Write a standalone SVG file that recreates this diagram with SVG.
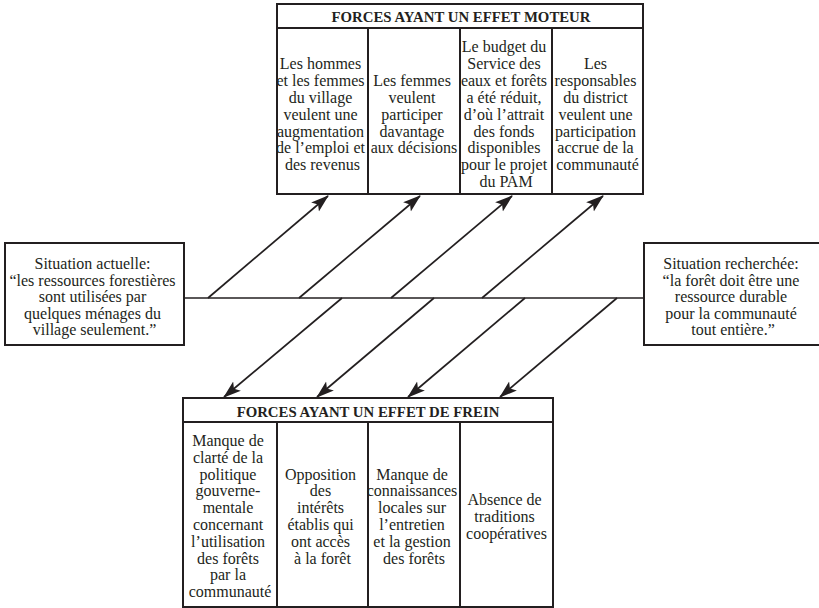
<svg xmlns="http://www.w3.org/2000/svg" width="819" height="608" viewBox="0 0 819 608">
  <style>
    .box { fill: #ffffff; stroke: #231f20; stroke-width: 2; }
    .div { stroke: #231f20; stroke-width: 2; fill: none; }
    .t { font-family: "Liberation Serif", "Times New Roman", serif; font-size: 16px; fill: #231f20; text-anchor: middle; }
    .h { font-family: "Liberation Serif", "Times New Roman", serif; font-size: 14.8px; font-weight: bold; fill: #231f20; text-anchor: middle; }
    .conn { stroke: #231f20; stroke-width: 1.7; fill: none; }
  </style>
  <defs>
    <marker id="arrow" viewBox="0 0 18 13" refX="17" refY="6.5" markerWidth="18" markerHeight="13" markerUnits="userSpaceOnUse" orient="auto">
      <path d="M0,0.5 L18,6.5 L0,12.5 L4,6.5 z" fill="#231f20"/>
    </marker>
  </defs>
  <rect width="819" height="608" fill="#ffffff"/>

  <!-- Driving forces -->
  <g id="forces-moteur">
    <rect class="box" x="277" y="4" width="366" height="190"/>
    <line class="div" x1="277" y1="28" x2="643" y2="28"/>
    <line class="div" x1="368" y1="28" x2="368" y2="194"/>
    <line class="div" x1="460" y1="28" x2="460" y2="194"/>
    <line class="div" x1="552" y1="28" x2="552" y2="194"/>
    <text class="h" x="461" y="21.5">FORCES AYANT UN EFFET MOTEUR</text>
    <text class="t" x="322.5">
      <tspan x="322.5" y="69">Les hommes</tspan>
      <tspan x="322.5" y="86">et les femmes</tspan>
      <tspan x="322.5" y="103">du village</tspan>
      <tspan x="322.5" y="120">veulent une</tspan>
      <tspan x="322.5" y="137">augmentation</tspan>
      <tspan x="322.5" y="153">de l’emploi et</tspan>
      <tspan x="322.5" y="170">des revenus</tspan>
    </text>
    <text class="t" x="414">
      <tspan x="414" y="86">Les femmes</tspan>
      <tspan x="414" y="103">veulent</tspan>
      <tspan x="414" y="120">participer</tspan>
      <tspan x="414" y="137">davantage</tspan>
      <tspan x="414" y="153">aux décisions</tspan>
    </text>
    <text class="t" x="506">
      <tspan x="506" y="52">Le budget du</tspan>
      <tspan x="506" y="69">Service des</tspan>
      <tspan x="506" y="86">eaux et forêts</tspan>
      <tspan x="506" y="103">a été réduit,</tspan>
      <tspan x="506" y="120">d’où l’attrait</tspan>
      <tspan x="506" y="137">des fonds</tspan>
      <tspan x="506" y="153">disponibles</tspan>
      <tspan x="506" y="170">pour le projet</tspan>
      <tspan x="506" y="187">du PAM</tspan>
    </text>
    <text class="t" x="597.5">
      <tspan x="597.5" y="69">Les</tspan>
      <tspan x="597.5" y="86">responsables</tspan>
      <tspan x="597.5" y="103">du district</tspan>
      <tspan x="597.5" y="120">veulent une</tspan>
      <tspan x="597.5" y="137">participation</tspan>
      <tspan x="597.5" y="153">accrue de la</tspan>
      <tspan x="597.5" y="170">communauté</tspan>
    </text>
  </g>

  <!-- Current situation -->
  <g id="situation-actuelle">
    <rect class="box" x="5" y="243" width="179" height="102"/>
    <text class="t">
      <tspan x="94.5" y="269">Situation actuelle:</tspan>
      <tspan x="94.5" y="285.5">“les ressources forestières</tspan>
      <tspan x="94.5" y="302">sont utilisées par</tspan>
      <tspan x="94.5" y="318.5">quelques ménages du</tspan>
      <tspan x="94.5" y="335">village seulement.”</tspan>
    </text>
  </g>

  <!-- Desired situation -->
  <g id="situation-recherchee">
    <rect class="box" x="644" y="243" width="180" height="102"/>
    <text class="t">
      <tspan x="733" y="269">Situation recherchée:</tspan>
      <tspan x="733" y="285.5">“la forêt doit être une</tspan>
      <tspan x="733" y="302">ressource durable</tspan>
      <tspan x="733" y="318.5">pour la communauté</tspan>
      <tspan x="733" y="335">tout entière.”</tspan>
    </text>
  </g>

  <!-- Restraining forces -->
  <g id="forces-frein">
    <rect class="box" x="183" y="398" width="370" height="209"/>
    <line class="div" x1="183" y1="422" x2="553" y2="422"/>
    <line class="div" x1="277" y1="422" x2="277" y2="607"/>
    <line class="div" x1="368" y1="422" x2="368" y2="607"/>
    <line class="div" x1="460" y1="422" x2="460" y2="607"/>
    <text class="h" x="368" y="417">FORCES AYANT UN EFFET DE FREIN</text>
    <text class="t">
      <tspan x="230" y="446">Manque de</tspan>
      <tspan x="230" y="463">clarté de la</tspan>
      <tspan x="230" y="480">politique</tspan>
      <tspan x="230" y="496">gouverne-</tspan>
      <tspan x="230" y="513">mentale</tspan>
      <tspan x="230" y="530">concernant</tspan>
      <tspan x="230" y="547">l’utilisation</tspan>
      <tspan x="230" y="564">des forêts</tspan>
      <tspan x="230" y="580">par la</tspan>
      <tspan x="230" y="597">communauté</tspan>
    </text>
    <text class="t">
      <tspan x="322.5" y="480">Opposition</tspan>
      <tspan x="322.5" y="496">des</tspan>
      <tspan x="322.5" y="513">intérêts</tspan>
      <tspan x="322.5" y="530">établis qui</tspan>
      <tspan x="322.5" y="547">ont accès</tspan>
      <tspan x="322.5" y="564">à la forêt</tspan>
    </text>
    <text class="t">
      <tspan x="414" y="480">Manque de</tspan>
      <tspan x="414" y="496">connaissances</tspan>
      <tspan x="414" y="513">locales sur</tspan>
      <tspan x="414" y="530">l’entretien</tspan>
      <tspan x="414" y="547">et la gestion</tspan>
      <tspan x="414" y="564">des forêts</tspan>
    </text>
    <text class="t">
      <tspan x="506.5" y="505">Absence de</tspan>
      <tspan x="506.5" y="522">traditions</tspan>
      <tspan x="506.5" y="539">coopératives</tspan>
    </text>
  </g>

  <!-- Axis and force arrows -->
  <g id="connectors">
    <line class="conn" x1="184" y1="298" x2="644" y2="298"/>
    <line class="conn" x1="208" y1="298" x2="328" y2="196" marker-end="url(#arrow)"/>
    <line class="conn" x1="299" y1="298" x2="420" y2="196" marker-end="url(#arrow)"/>
    <line class="conn" x1="391" y1="298" x2="512" y2="196" marker-end="url(#arrow)"/>
    <line class="conn" x1="482" y1="298" x2="603" y2="196" marker-end="url(#arrow)"/>
    <line class="conn" x1="342" y1="298" x2="224" y2="397" marker-end="url(#arrow)"/>
    <line class="conn" x1="434" y1="298" x2="317" y2="397" marker-end="url(#arrow)"/>
    <line class="conn" x1="525" y1="298" x2="408" y2="397" marker-end="url(#arrow)"/>
    <line class="conn" x1="617" y1="298" x2="500" y2="397" marker-end="url(#arrow)"/>
  </g>
</svg>
